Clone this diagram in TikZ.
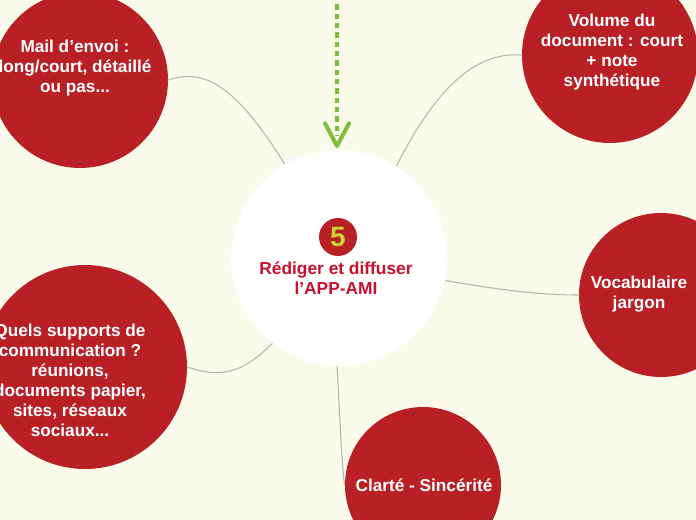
\documentclass[tikz,border=0pt]{standalone}
\usepackage{fontspec}
\setmainfont{Liberation Sans}
\usetikzlibrary{arrows.meta}
\definecolor{bg}{HTML}{FAFBEA}
\definecolor{redc}{HTML}{B82025}
\definecolor{titlec}{HTML}{C8102E}
\definecolor{linec}{HTML}{B5B8A8}
\definecolor{greenc}{HTML}{7DBE3C}
\definecolor{yel}{HTML}{C8D630}
\begin{document}
\begin{tikzpicture}[x=0.75pt,y=-0.75pt,
  topic/.style={circle,fill=redc,inner sep=0pt},
  lab/.style={text=white,font=\bfseries\fontsize{12.9}{15}\selectfont,align=center,inner sep=0pt},
  conn/.style={draw=linec,line width=0.8pt}]
\fill[bg] (0,0) rectangle (696,520);
\useasboundingbox (0,0) rectangle (696,520);
\begin{scope}
\clip (0,0) rectangle (696,520);
\node[circle,fill=white,minimum size=216*0.75pt] (c) at (339,258) {};
\node[topic,minimum size=176*0.75pt] (tl) at (80,80) {};
\node[topic,minimum size=176*0.75pt] (tr) at (610,55) {};
\node[topic,minimum size=164*0.75pt] (r) at (661,295) {};
\node[topic,minimum size=156*0.75pt] (b) at (423,485) {};
\node[topic,minimum size=204*0.75pt] (l) at (85,367) {};
\node[lab] (tlt) at (75,68) {Mail d'envoi :\\long/court, détaillé\\ou pas...};
\node[lab] (trt) at (612,52) {Volume du\\document : court\\+ note\\synthétique};
\node[lab] (rt) at (639,294) {Vocabulaire\\jargon};
\node[lab] (bt) at (424,485) {Clarté - Sincérité};
\node[lab] (lt) at (70,380) {Quels supports de\\communication ?\\réunions,\\documents papier,\\sites, réseaux\\sociaux...};
\coordinate (top) at (337,-5);
\coordinate (tip) at (337,146);
\end{scope}
\draw[conn] (c.120) .. controls (235,85) and (205,68) .. (tl.east);
\draw[conn] (c.58) .. controls (440,80) and (480,52) .. (tr.west);
\draw[conn] (c.-12) .. controls (500,290) and (540,295) .. (r.west);
\draw[conn] (c.-128) .. controls (245,370) and (225,380) .. (l.east);
\draw[conn] (c.-91) .. controls (340,420) and (342,470) .. (b.west);
\draw[greenc,line width=3.5pt,dash pattern=on 4pt off 3pt] (top) -- ([yshift=8]tip);
\draw[greenc,line width=3pt,line cap=round,line join=round] ([xshift=-9,yshift=17]tip) -- (tip) -- ([xshift=9,yshift=17]tip);
\node[circle,fill=redc,minimum size=38*0.75pt,inner sep=0pt,text=yel,font=\bfseries\fontsize{21}{21}\selectfont] (num) at (338,237) {5};
\node[text=titlec,font=\bfseries\fontsize{13}{15}\selectfont,align=center] (t) at (336,278) {Rédiger et diffuser\\l’APP-AMI};
\end{tikzpicture}
\end{document}
